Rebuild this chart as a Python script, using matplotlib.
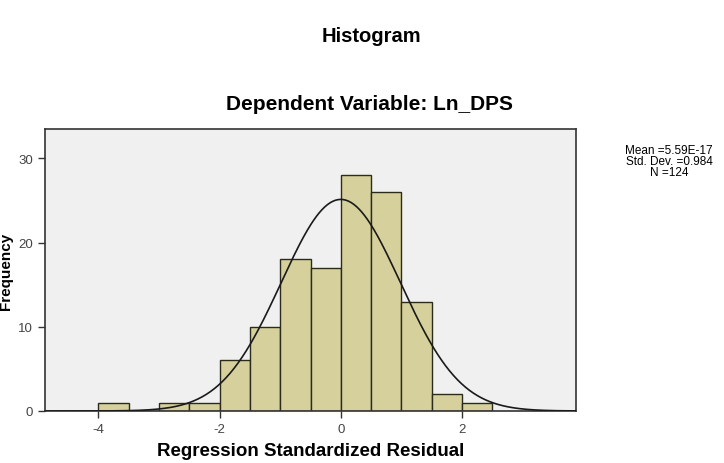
import numpy as np
import matplotlib
matplotlib.use("Agg")
import matplotlib.pyplot as plt

plt.rcParams['font.family'] = ['Liberation Sans', 'DejaVu Sans']

# Data
bin_edges = [-4.0, -3.5, -3.0, -2.5, -2.0, -1.5, -1.0, -0.5, 0.0, 0.5, 1.0, 1.5, 2.0, 2.5]
counts = [1, 0, 1, 1, 6, 10, 18, 17, 28, 26, 13, 2, 1]
mean = 5.59e-17
std = 0.984
n = 124
x_ticks = [-4, -2, 0, 2]
y_ticks = [0, 10, 20, 30]

fig = plt.figure(figsize=(7.24, 4.64), dpi=100)
fig.patch.set_facecolor('white')
ax = fig.add_axes([45/724, 1-412/464, (576-45)/724, (412-130)/464])
ax.set_facecolor('#F0F0F0')

edges = np.array(bin_edges)
widths = np.diff(edges)
ax.bar(edges[:-1], counts, width=widths, align='edge', color='#D6D19C',
       edgecolor='#2b2b1c', linewidth=1.0, zorder=2)

bw = widths[0]
xs = np.linspace(-4.88, 3.88, 400)
ys = n * bw / (std * np.sqrt(2*np.pi)) * np.exp(-0.5*((xs-mean)/std)**2)
ax.plot(xs, ys, color='#1a1a1a', linewidth=1.2, zorder=3)

ax.set_xlim(-4.88, 3.88)
ax.set_ylim(0, 33.5)
ax.set_xticks(x_ticks)
ax.set_yticks(y_ticks)
ax.set_xticklabels([str(t) for t in x_ticks])
ax.tick_params(axis='both', direction='out', length=5, width=1.0, color='#333333',
               labelsize=9.5, labelcolor='#444444')
for s in ax.spines.values():
    s.set_color('#333333')
    s.set_linewidth(1.2)

ax.set_xlabel('Regression Standardized Residual', fontsize=13.5, fontweight='bold', labelpad=5)
ax.set_ylabel('Frequency', fontsize=11, fontweight='bold', labelpad=4)

fig.text(371/724, 1-37/464, 'Histogram', ha='center', va='center', fontsize=14.5, fontweight='bold')
fig.text(370/724, 1-104/464, 'Dependent Variable: Ln_DPS', ha='center', va='center',
         fontsize=15, fontweight='bold')
fig.text(669/724, 1-162/464, 'Mean =5.59E-17\nStd. Dev. =0.984\nN =124', ha='center', va='center',
         fontsize=8.5, linespacing=0.9)

fig.savefig('out.png', dpi=100, facecolor='white')
